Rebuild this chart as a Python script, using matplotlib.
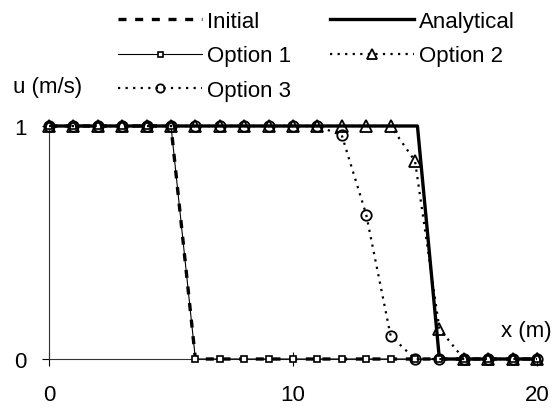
import numpy as np
import matplotlib.pyplot as plt

plt.rcParams['font.family'] = ['Liberation Sans', 'DejaVu Sans']

# данные
x_nodes = np.arange(0, 21)
u_initial = [1, 1, 1, 1, 1, 1, 0, 0, 0, 0, 0, 0, 0, 0, 0, 0, 0, 0, 0, 0, 0]
x_analytical = [0, 15.1, 16.0, 20]
u_analytical = [1, 1, 0, 0]
u_option1 = [1, 1, 1, 1, 1, 1, 0, 0, 0, 0, 0, 0, 0, 0, 0, 0, 0, 0, 0, 0, 0]
u_option2 = [1, 1, 1, 1, 1, 1, 1, 1, 1, 1, 1, 1, 1, 1, 1, 0.85, 0.13, 0, 0, 0, 0]
u_option3 = [1, 1, 1, 1, 1, 1, 1, 1, 1, 1, 1, 1, 0.96, 0.62, 0.1, 0, 0, 0, 0, 0, 0]
x_ticks = [0, 10, 20]
y_ticks = [0, 1]

fs = 16

fig = plt.figure(figsize=(5.58, 4.10), dpi=100)
ax = fig.add_axes([49 / 558, 50 / 410, 488 / 558, 233 / 410])

h_an, = ax.plot(x_analytical, u_analytical, color='black', lw=2.4,
                label='Analytical', clip_on=False, zorder=3)
h_in, = ax.plot(x_nodes, u_initial, color='black', lw=2.4, dashes=(2.4, 2.6),
                label='Initial', clip_on=False, zorder=4)
h_o1, = ax.plot(x_nodes, u_option1, color='black', lw=0.8, marker='s', ms=4.5,
                mfc='white', mec='black', mew=1.2, label='Option 1',
                clip_on=False, zorder=5)
h_o2, = ax.plot(x_nodes, u_option2, color='black', lw=1.6, dashes=(1, 2.4),
                marker='^', ms=8.5, mfc='none', mec='black', mew=1.3,
                label='Option 2', clip_on=False, zorder=6)
h_o3, = ax.plot(x_nodes, u_option3, color='black', lw=1.6, dashes=(1, 2.4),
                marker='o', ms=7.5, mfc='none', mec='black', mew=1.3,
                label='Option 3', clip_on=False, zorder=7)

ax.set_xlim(0, 20)
ax.set_ylim(0, 1)
ax.set_xticks(x_ticks)
ax.set_yticks(y_ticks)
ax.tick_params(axis='x', direction='inout', length=10, width=0.8, pad=13, labelsize=fs)
ax.tick_params(axis='y', direction='out', length=5, width=0.8, pad=11, labelsize=fs)
for s in ['top', 'right']:
    ax.spines[s].set_visible(False)
for s in ['left', 'bottom']:
    ax.spines[s].set_linewidth(0.8)
    ax.spines[s].set_color('#333333')

fig.text(13 / 558, 1 - 88 / 410, 'u (m/s)', fontsize=fs, va='center', ha='left')
fig.text(501 / 558, 1 - 332 / 410, 'x (m)', fontsize=fs, va='center', ha='left')

fig.legend([h_in, h_o1, h_o3, h_an, h_o2],
           ['Initial', 'Option 1', 'Option 3', 'Analytical', 'Option 2'],
           ncol=2, loc='upper left', bbox_to_anchor=(118 / 558, 1 - 12 / 410),
           frameon=False, fontsize=fs, handlelength=3.8, handletextpad=0.2,
           columnspacing=1.75, labelspacing=0.6, borderpad=0, borderaxespad=0,
           markerscale=0.8)

fig.savefig('out.png', dpi=100)
